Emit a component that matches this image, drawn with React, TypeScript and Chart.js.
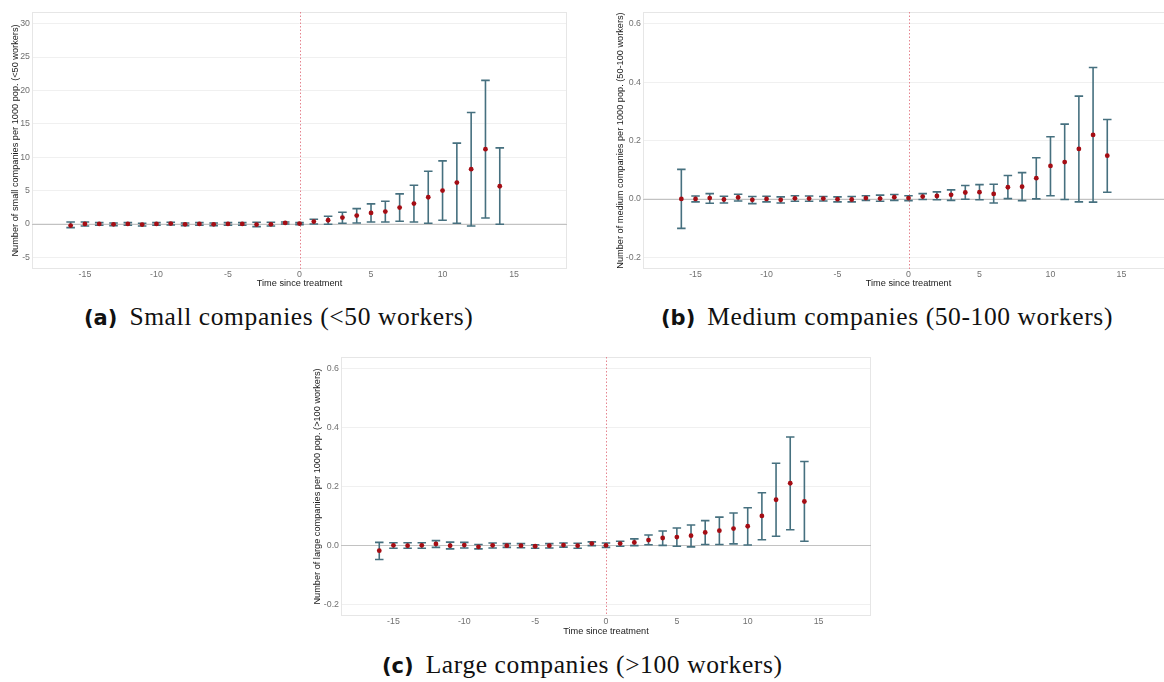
import React, { useEffect, useRef } from "react";
import { Chart, registerables } from "chart.js";

Chart.register(...registerables);

// Event-study periods (years since treatment)
const periods = [
  -16, -15, -14, -13, -12, -11, -10, -9, -8, -7, -6, -5, -4, -3, -2, -1, 0,
  1, 2, 3, 4, 5, 6, 7, 8, 9, 10, 11, 12, 13, 14,
];

// Small companies (<50 workers): estimate and 95% CI
const smallEst = [
  -0.25, 0.0, 0.0, -0.05, 0.0, -0.1, 0.0, 0.05, -0.05, 0.0, -0.05, 0.0, 0.0, -0.1, -0.05, 0.15, 0.05,
  0.35, 0.55, 0.95, 1.25, 1.65, 1.85, 2.45, 3.05, 4.0, 5.0, 6.2, 8.2, 11.2, 5.65,
];
const smallLow = [
  -0.55, -0.3, -0.2, -0.25, -0.2, -0.3, -0.2, -0.15, -0.25, -0.2, -0.25, -0.2, -0.2, -0.4, -0.3, 0.0, -0.1,
  0.0, -0.05, 0.1, 0.15, 0.3, 0.3, 0.4, 0.3, 0.1, 0.55, 0.1, -0.3, 0.9, -0.05,
];
const smallHigh = [
  0.3, 0.3, 0.2, 0.15, 0.2, 0.1, 0.2, 0.25, 0.15, 0.2, 0.15, 0.2, 0.2, 0.25, 0.25, 0.3, 0.2,
  0.7, 1.15, 1.75, 2.3, 3.0, 3.4, 4.5, 5.8, 7.9, 9.45, 12.1, 16.7, 21.5, 11.4,
];

// Medium companies (50-100 workers)
const mediumEst = [
  0.0, 0.0, 0.003, -0.002, 0.005, -0.003, 0.0, -0.003, 0.002, 0.001, 0.001, -0.001, -0.002, 0.003, 0.001, 0.006, 0.003,
  0.008, 0.01, 0.014, 0.022, 0.023, 0.017, 0.04, 0.042, 0.071, 0.113, 0.126, 0.171, 0.219, 0.148,
];
const mediumLow = [
  -0.101, -0.01, -0.015, -0.014, -0.007, -0.016, -0.01, -0.014, -0.008, -0.008, -0.007, -0.01, -0.01, -0.005, -0.008, -0.005, -0.006,
  -0.002, -0.003, -0.005, -0.001, -0.003, -0.014, 0.001, -0.006, 0.0, 0.011, -0.002, -0.01, -0.011, 0.023,
];
const mediumHigh = [
  0.101, 0.01, 0.018, 0.009, 0.016, 0.008, 0.009, 0.007, 0.011, 0.01, 0.008, 0.007, 0.008, 0.011, 0.013, 0.015, 0.011,
  0.018, 0.024, 0.031, 0.046, 0.049, 0.05, 0.08, 0.09, 0.141, 0.213, 0.256, 0.352, 0.45, 0.272,
];

// Large companies (>100 workers)
const largeEst = [
  -0.018, 0.0, -0.001, 0.0, 0.005, -0.001, 0.001, -0.005, 0.0, -0.001, -0.001, -0.003, -0.001, 0.001, -0.001, 0.006, 0.0,
  0.006, 0.01, 0.018, 0.025, 0.028, 0.033, 0.044, 0.05, 0.057, 0.065, 0.1, 0.155, 0.211, 0.149,
];
const largeLow = [
  -0.048, -0.01, -0.01, -0.01, -0.007, -0.012, -0.009, -0.012, -0.009, -0.007, -0.008, -0.01, -0.009, -0.006, -0.01, -0.001, -0.007,
  -0.003, -0.001, 0.002, 0.0, -0.003, -0.005, 0.003, 0.003, 0.005, 0.001, 0.019, 0.031, 0.053, 0.014,
];
const largeHigh = [
  0.01, 0.009, 0.009, 0.009, 0.016, 0.011, 0.01, 0.003, 0.008, 0.006, 0.006, 0.002, 0.006, 0.008, 0.007, 0.012, 0.008,
  0.014, 0.022, 0.035, 0.049, 0.059, 0.069, 0.084, 0.096, 0.11, 0.128, 0.179, 0.279, 0.368, 0.285,
];

// Axis ticks
const xTicks = [-15, -10, -5, 0, 5, 10, 15];
const smallTicks = [-5, 0, 5, 10, 15, 20, 25, 30];
const shareTicks = [-0.2, 0, 0.2, 0.4, 0.6];

const X_TITLE = "Time since treatment";
const SANS = '"Liberation Sans", Arial, sans-serif';

type PanelProps = {
  est: number[];
  low: number[];
  high: number[];
  yTicks: number[];
  yMin: number;
  yMax: number;
  decimals: number;
  yTitle: string;
  left: number;
  top: number;
  width: number;
  height: number;
  yAxisWidth: number;
  yTitleOffset: number;
  xTitleOffset: number;
};

function Panel(p: PanelProps) {
  const ref = useRef<HTMLCanvasElement | null>(null);

  useEffect(() => {
    if (!ref.current) return;

    const decorations = {
      id: "eventStudyMarks",
      beforeDatasetsDraw(chart: any) {
        const { ctx, chartArea: a, scales } = chart;
        const xs = scales.x;
        const ys = scales.y;
        ctx.save();

        // panel frame
        ctx.strokeStyle = "#e6e6e6";
        ctx.lineWidth = 1;
        ctx.strokeRect(a.left + 0.5, a.top + 0.5, a.right - a.left - 1, a.bottom - a.top - 1);

        // zero reference line
        const y0 = Math.round(ys.getPixelForValue(0)) + 0.5;
        ctx.strokeStyle = "#c2c2c2";
        ctx.lineWidth = 1.2;
        ctx.beginPath();
        ctx.moveTo(a.left, y0);
        ctx.lineTo(a.right, y0);
        ctx.stroke();

        // treatment onset
        const x0 = Math.round(xs.getPixelForValue(0)) + 0.5;
        ctx.strokeStyle = "#e5848f";
        ctx.lineWidth = 1;
        ctx.setLineDash([1.5, 2]);
        ctx.beginPath();
        ctx.moveTo(x0, a.top);
        ctx.lineTo(x0, a.bottom);
        ctx.stroke();
        ctx.setLineDash([]);

        // confidence intervals
        ctx.strokeStyle = "#46707f";
        ctx.lineWidth = 1.6;
        periods.forEach((t, i) => {
          const cx = xs.getPixelForValue(t);
          const hw = xs.getPixelForValue(t + 0.3) - cx;
          const yl = ys.getPixelForValue(p.low[i]);
          const yh = ys.getPixelForValue(p.high[i]);
          ctx.beginPath();
          ctx.moveTo(cx, yl);
          ctx.lineTo(cx, yh);
          ctx.moveTo(cx - hw, yl);
          ctx.lineTo(cx + hw, yl);
          ctx.moveTo(cx - hw, yh);
          ctx.lineTo(cx + hw, yh);
          ctx.stroke();
        });
        ctx.restore();
      },
    };

    const chart = new Chart(ref.current, {
      type: "scatter",
      data: {
        datasets: [
          {
            data: periods.map((t, i) => ({ x: t, y: p.est[i] })),
            pointRadius: 2.4,
            pointBackgroundColor: "#a50d14",
            pointBorderWidth: 0,
            pointHoverRadius: 2.4,
          },
        ],
      },
      options: {
        animation: false,
        responsive: false,
        maintainAspectRatio: false,
        devicePixelRatio: 1,
        layout: { padding: { top: 12, right: 13, left: 0, bottom: 0 } },
        plugins: {
          legend: { display: false },
          tooltip: { enabled: false },
        },
        scales: {
          x: {
            type: "linear",
            min: -18.7,
            max: 18.7,
            afterBuildTicks: (ax: any) => {
              ax.ticks = xTicks.map((v) => ({ value: v }));
            },
            afterFit: (ax: any) => {
              ax.height = 31;
            },
            grid: { display: false, drawTicks: false },
            border: { display: false },
            ticks: {
              padding: 0,
              color: "#707070",
              font: { family: SANS, size: 8.8 },
              maxRotation: 0,
              autoSkip: false,
              callback: (v: any) => String(v),
            },
            title: {
              display: true,
              text: X_TITLE,
              color: "#1a1a1a",
              font: { family: SANS, size: 9.2 },
              padding: { top: 0, bottom: p.xTitleOffset - 5.52 },
            },
          },
          y: {
            type: "linear",
            min: p.yMin,
            max: p.yMax,
            afterBuildTicks: (ax: any) => {
              ax.ticks = p.yTicks.map((v) => ({ value: v }));
            },
            afterFit: (ax: any) => {
              ax.width = p.yAxisWidth;
            },
            grid: { color: "#f0f0f0", lineWidth: 1, drawTicks: false },
            border: { display: false },
            ticks: {
              padding: 2,
              color: "#707070",
              font: { family: SANS, size: 8.8 },
              autoSkip: false,
              callback: (v: any) => Number(v).toFixed(p.decimals),
            },
            title: {
              display: true,
              text: p.yTitle,
              color: "#1a1a1a",
              font: { family: SANS, size: 9.2 },
              padding: { top: p.yTitleOffset - 5.52, bottom: 0 },
            },
          },
        },
      },
      plugins: [decorations],
    } as any);

    return () => chart.destroy();
  }, []);

  return (
    <canvas
      ref={ref}
      width={p.width}
      height={p.height}
      style={{
        position: "absolute",
        left: p.left,
        top: p.top,
        width: p.width,
        height: p.height,
      }}
    />
  );
}

const captionStyle: React.CSSProperties = {
  position: "absolute",
  whiteSpace: "nowrap",
  fontFamily: '"Liberation Serif", "Times New Roman", serif',
  fontSize: 25.5,
  letterSpacing: 0.6,
  lineHeight: "28px",
  color: "#111",
};

const labelStyle: React.CSSProperties = {
  fontFamily: '"DejaVu Sans", sans-serif',
  fontWeight: 700,
  fontSize: 21,
  letterSpacing: 0,
  marginRight: 12,
};

export default function App() {
  return (
    <div
      style={{
        position: "absolute",
        left: 0,
        top: 0,
        width: 1164,
        height: 682,
        overflow: "hidden",
        background: "#ffffff",
      }}
    >
      <Panel
        est={smallEst}
        low={smallLow}
        high={smallHigh}
        yTicks={smallTicks}
        yMin={-6.75}
        yMax={31.75}
        decimals={0}
        yTitle="Number of small companies per 1000 pop. (<50 workers)"
        left={0}
        top={0}
        width={580}
        height={300}
        yAxisWidth={32}
        yTitleOffset={15}
        xTitleOffset={17}
      />
      <Panel
        est={mediumEst}
        low={mediumLow}
        high={mediumHigh}
        yTicks={shareTicks}
        yMin={-0.24}
        yMax={0.64}
        decimals={1}
        yTitle="Number of medium companies per 1000 pop. (50-100 workers)"
        left={600}
        top={0}
        width={587}
        height={300}
        yAxisWidth={43}
        yTitleOffset={20}
        xTitleOffset={17}
      />
      <Panel
        est={largeEst}
        low={largeLow}
        high={largeHigh}
        yTicks={shareTicks}
        yMin={-0.24}
        yMax={0.64}
        decimals={1}
        yTitle="Number of large companies per 1000 pop. (>100 workers)"
        left={300}
        top={345}
        width={584}
        height={302}
        yAxisWidth={41}
        yTitleOffset={17}
        xTitleOffset={16}
      />

      <div style={{ ...captionStyle, left: 84, top: 303 }}>
        <span style={labelStyle}>(a)</span>Small companies (&lt;50 workers)
      </div>
      <div style={{ ...captionStyle, left: 661, top: 303 }}>
        <span style={labelStyle}>(b)</span>Medium companies (50-100 workers)
      </div>
      <div style={{ ...captionStyle, left: 382, top: 651 }}>
        <span style={labelStyle}>(c)</span>Large companies (&gt;100 workers)
      </div>
    </div>
  );
}
